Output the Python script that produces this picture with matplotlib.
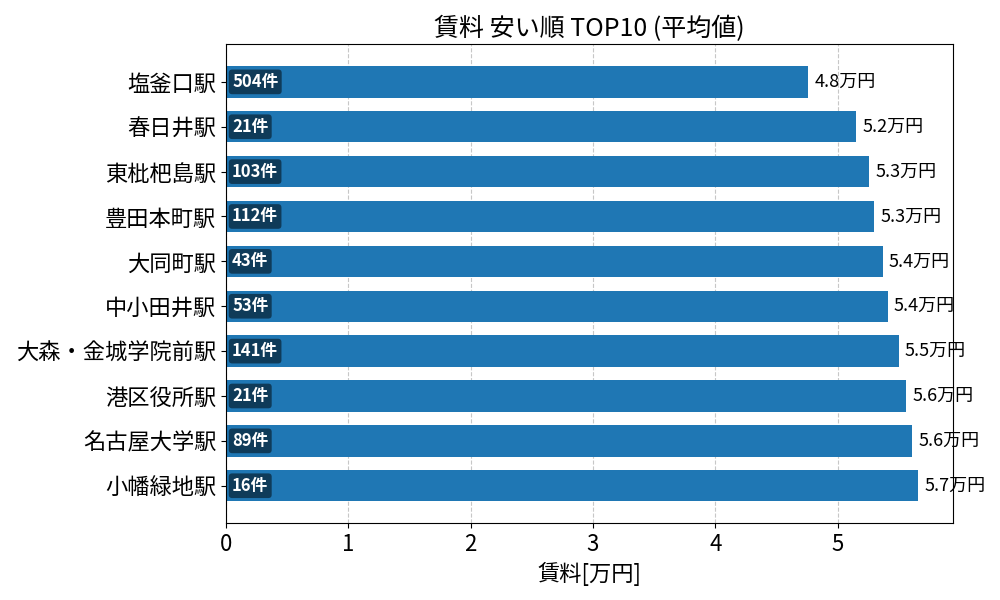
import matplotlib
matplotlib.use("Agg")
import matplotlib.pyplot as plt

plt.rcParams['font.family'] = ['Noto Sans CJK JP', 'DejaVu Sans']

stations = ["塩釜口駅", "春日井駅", "東枇杷島駅", "豊田本町駅", "大同町駅",
            "中小田井駅", "大森・金城学院前駅", "港区役所駅", "名古屋大学駅", "小幡緑地駅"]
rents = [4.76, 5.15, 5.26, 5.30, 5.37, 5.41, 5.50, 5.56, 5.61, 5.66]
counts = [504, 21, 103, 112, 43, 53, 141, 21, 89, 16]

fig, ax = plt.subplots(figsize=(10, 6), dpi=100)
ypos = list(range(len(stations)))[::-1]
ax.barh(ypos, rents, height=0.7, color="#1f77b4", zorder=2)
ax.set_yticks(ypos)
ax.set_yticklabels(stations, fontsize=16)
ax.tick_params(axis='x', labelsize=16)
ax.set_xlim(0, max(rents) * 1.05)
ax.grid(axis='x', linestyle='--', color='#b0b0b0', alpha=0.7, zorder=0)
ax.set_axisbelow(True)

for y, v, c in zip(ypos, rents, counts):
    ax.text(v + 0.05, y, f"{v:.1f}万円", va='center', ha='left', fontsize=13)
    ax.text(0.05, y, f"{c}件", va='center', ha='left', fontsize=12,
            color='white', fontweight='bold',
            bbox=dict(boxstyle='round,pad=0.2', facecolor='black', alpha=0.5, edgecolor='none'))

ax.set_title("賃料 安い順 TOP10 (平均値)", fontsize=18)
ax.set_xlabel("賃料[万円]", fontsize=16)
fig.subplots_adjust(left=0.226, right=0.953, top=0.926, bottom=0.128)
fig.savefig("out.png")
